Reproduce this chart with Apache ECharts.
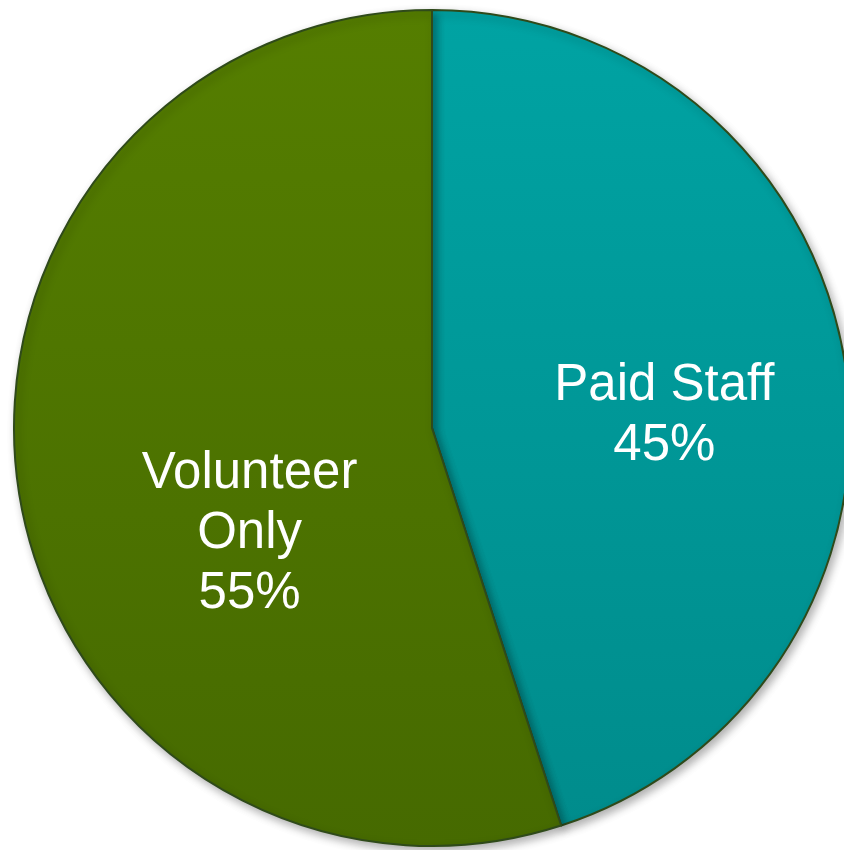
<!DOCTYPE html>
<html>
<head>
<meta charset="utf-8">
<script src="https://cdn.jsdelivr.net/npm/echarts@6/dist/echarts.min.js"></script>
<style>
  html, body { margin: 0; padding: 0; background: #fff; }
  #chart { width: 844px; height: 850px; }
</style>
</head>
<body>
<div id="chart"></div>
<script>
  // data
  var names = ['Paid Staff', 'Volunteer Only'];
  var labelNames = ['Paid Staff', 'Volunteer\nOnly'];
  var values = [45, 55];

  var colors = [
    new echarts.graphic.LinearGradient(0, 0, 0, 1, [
      { offset: 0, color: '#00a3a3' },
      { offset: 1, color: '#008c8c' }
    ]),
    new echarts.graphic.LinearGradient(0, 0, 0, 1, [
      { offset: 0, color: '#557e00' },
      { offset: 1, color: '#466a00' }
    ])
  ];
  // label nudges from the default inside spot
  var labelShift = [[23, 21], [27, 73]];

  var chart = echarts.init(document.getElementById('chart'));

  var data = names.map(function (n, i) {
    return {
      name: n,
      value: values[i],
      itemStyle: { color: colors[i] },
      label: { formatter: labelNames[i] + '\n{d}%' }
    };
  });

  var option = {
    backgroundColor: '#fff',
    animation: false,
    series: [{
      type: 'pie',
      center: [432, 428],
      radius: 418,
      startAngle: 90,
      clockwise: true,
      data: data,
      itemStyle: {
        borderColor: '#2f4a1a',
        borderWidth: 2,
        shadowBlur: 8,
        shadowOffsetX: 3,
        shadowOffsetY: 4,
        shadowColor: 'rgba(0,0,0,0.3)'
      },
      label: {
        show: true,
        position: 'inner',
        color: '#fff',
        fontFamily: 'Liberation Sans',
        fontSize: 51,
        lineHeight: 60,
        align: 'center'
      },
      labelLine: { show: false },
      labelLayout: function (p) {
        var s = labelShift[p.dataIndex];
        return { dx: s[0], dy: s[1] };
      }
    }]
  };

  chart.setOption(option);
</script>
</body>
</html>
